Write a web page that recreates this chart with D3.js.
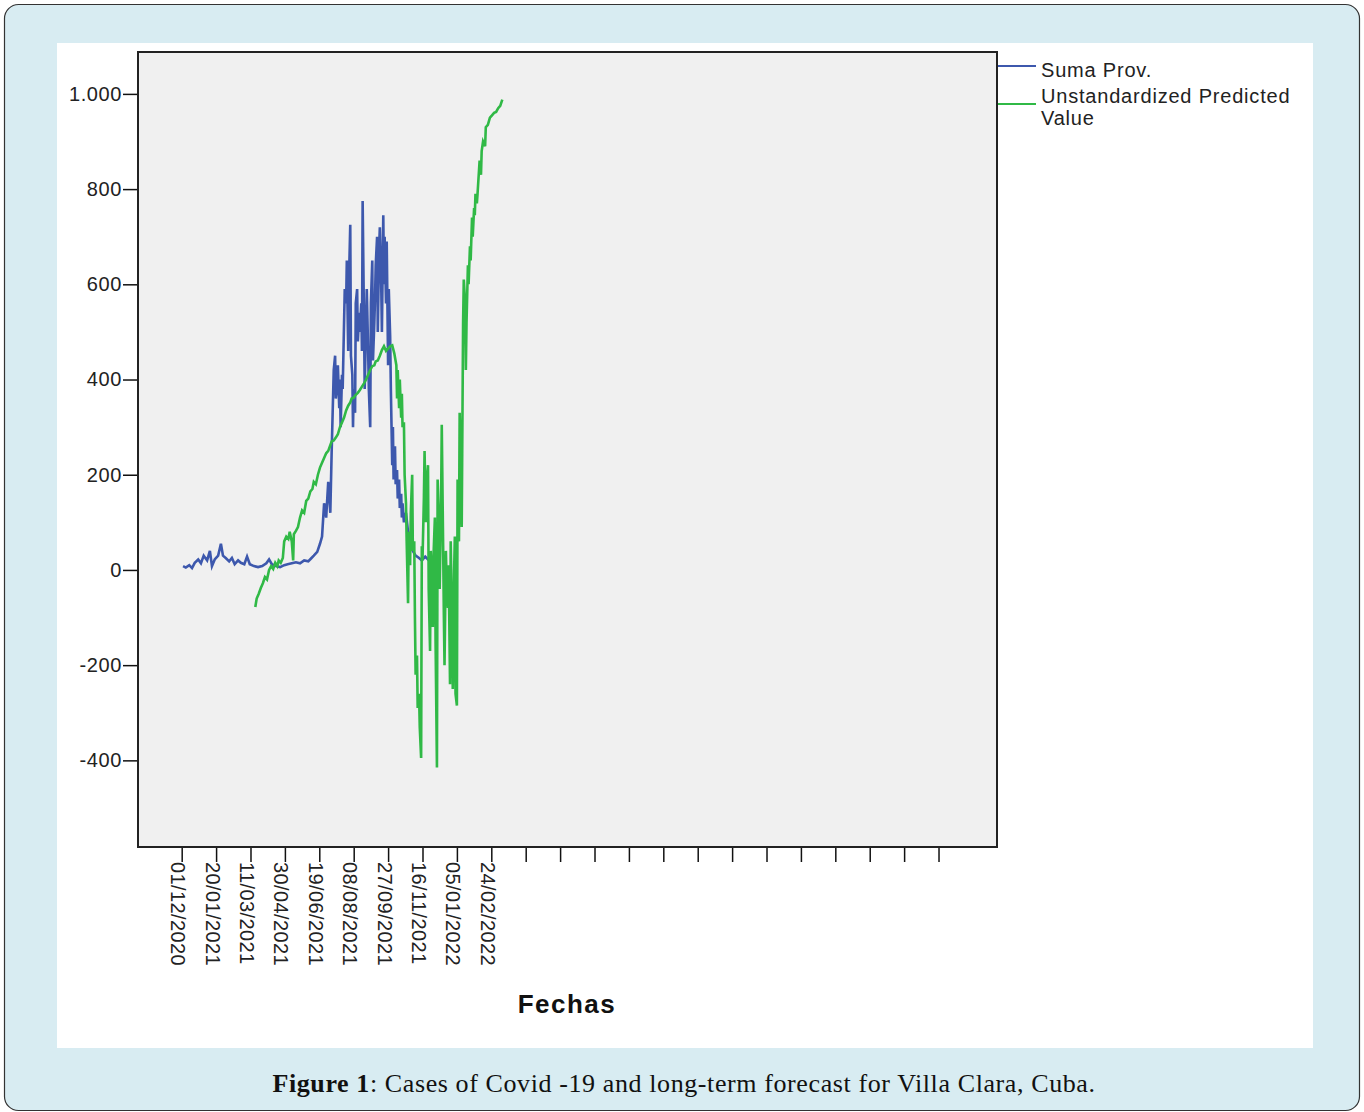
<!DOCTYPE html>
<html>
<head>
<meta charset="utf-8">
<script src="https://cdn.jsdelivr.net/npm/d3@7"></script>
<style>
  body { margin: 0; background: #ffffff; }
  text { font-family: "Liberation Sans", Arial, sans-serif; }
</style>
</head>
<body>
<div id="chart1"></div>
<script>

// ================================ data
// days counted from 01/12/2020
var sumaDays = [2, 6, 11, 15, 19, 24, 28, 32, 37, 41, 44, 48, 53, 57, 60, 64, 69, 73, 77, 82,
  86, 91, 95, 99, 105, 111, 117, 123, 127, 131, 137, 143, 149, 154, 160, 166, 172, 178, 184, 188,
  192, 197, 201, 204, 207, 210, 213, 216, 218, 221, 223, 224, 226, 227, 229, 230, 231, 233, 234, 236,
  237, 239, 240, 242, 243, 245, 246, 248, 249, 250, 252, 253, 255, 256, 258, 259, 261, 262, 263, 265,
  266, 268, 269, 271, 272, 274, 275, 277, 278, 280, 281, 282, 284, 285, 287, 288, 290, 291, 293, 294,
  295, 297, 298, 300, 301, 303, 304, 306, 307, 308, 310, 311, 313, 314, 316, 317, 319, 320, 321, 323,
  326, 329, 332, 336, 340, 345, 349, 354, 358, 362];
var sumaVals = [8, 5, 10, 4, 15, 22, 14, 30, 20, 40, 8, 22, 30, 55, 30, 25, 18, 25, 12, 20,
  15, 12, 28, 12, 8, 6, 8, 14, 22, 12, 8, 6, 10, 12, 14, 16, 14, 20, 18, 24,
  30, 38, 55, 70, 140, 110, 185, 120, 250, 420, 450, 360, 390, 430, 340, 400, 300, 410, 380, 520,
  590, 560, 650, 460, 600, 725, 450, 410, 300, 380, 330, 560, 590, 480, 540, 500, 560, 460, 775, 520,
  380, 520, 590, 460, 380, 300, 560, 650, 440, 520, 570, 640, 700, 500, 680, 720, 600, 500, 745, 600,
  700, 560, 690, 430, 590, 490, 380, 220, 300, 190, 260, 180, 210, 150, 190, 130, 160, 110, 140, 100,
  120, 80, 60, 40, 30, 25, 20, 28, 22, 18];

var predDays = [107, 109, 112, 115, 118, 121, 124, 127, 130, 133, 136, 139, 141, 144, 147, 149, 152, 155, 157, 160,
  162, 163, 166, 169, 172, 175, 178, 181, 184, 187, 190, 192, 195, 198, 201, 204, 207, 210, 213, 216,
  218, 221, 224, 227, 230, 233, 236, 239, 242, 245, 247, 250, 253, 256, 259, 262, 265, 268, 271, 274,
  277, 280, 282, 285, 288, 291, 294, 297, 300, 303, 306, 309, 312, 313, 314, 316, 317, 319, 320, 321,
  323, 324, 326, 327, 329, 330, 332, 333, 335, 336, 338, 339, 340, 342, 343, 345, 346, 348, 349, 350,
  352, 353, 355, 356, 358, 359, 361, 362, 364, 365, 366, 368, 369, 371, 372, 374, 375, 377, 378, 380,
  381, 382, 384, 385, 387, 388, 390, 391, 393, 394, 396, 397, 398, 400, 401, 403, 404, 406, 407, 409,
  410, 412, 413, 414, 416, 417, 419, 420, 422, 423, 425, 426, 427, 429, 430, 433, 435, 436, 438, 441,
  442, 445, 448, 451, 454, 457, 460, 463, 466];
var predVals = [-78, -60, -50, -38, -28, -15, -20, 0, 8, 2, 15, 8, 20, 15, 25, 60, 70, 65, 80, 60,
  20, 75, 82, 90, 110, 125, 120, 145, 150, 165, 170, 185, 180, 200, 215, 225, 235, 245, 250, 262,
  270, 272, 278, 285, 300, 310, 320, 335, 345, 352, 360, 362, 368, 372, 378, 385, 392, 400, 410, 420,
  428, 430, 438, 440, 450, 462, 470, 460, 465, 470, 472, 455, 430, 360, 420, 340, 400, 320, 370, 300,
  310, 200, 140, 60, -70, 80, 10, 120, 200, 40, 60, -100, -220, -180, -290, -260, -330, -395, 50, 20,
  150, 250, 100, 180, 220, -40, -170, 40, -60, -120, 30, 110, -150, -415, 190, 100, -40, 140, 305, 50,
  -90, -200, 40, -20, -80, 10, -240, 60, -110, -250, 0, 70, -260, -285, 190, 60, 330, 200, 90, 520,
  610, 560, 420, 520, 640, 600, 680, 650, 740, 700, 760, 745, 790, 770, 790, 860, 830, 880, 900, 890,
  930, 935, 950, 955, 960, 962, 970, 975, 988];

var yTicks = [-400, -200, 0, 200, 400, 600, 800, 1000];
var xTickLabels = ["01/12/2020", "20/01/2021", "11/03/2021", "30/04/2021", "19/06/2021",
  "08/08/2021", "27/09/2021", "16/11/2021", "05/01/2022", "24/02/2022"];
var legendLabels = ["Suma Prov.", "Unstandardized Predicted Value"];

// ================================ layout
var svgWidth = 1364;
var svgHeight = 1112;

var plot = { left: 138, top: 52, right: 997, bottom: 847 };
var blueColor = "#3d58ad";
var greenColor = "#30b946";

var startDate = new Date(Date.UTC(2020, 11, 1));
var dayToDate = d => d3.utcDay.offset(startDate, d);

var svg = d3.select("#chart1")
  .append("svg")
  .attr("width", svgWidth)
  .attr("height", svgHeight);

// outer frame
svg.append("rect")
  .attr("x", 4.5)
  .attr("y", 4.5)
  .attr("width", 1355)
  .attr("height", 1106)
  .attr("rx", 14)
  .style("fill", "#d8ecf2")
  .style("stroke", "#333")
  .style("stroke-width", 1.2);

// white panel behind the chart
svg.append("rect")
  .attr("x", 57)
  .attr("y", 43)
  .attr("width", 1256)
  .attr("height", 1005)
  .style("fill", "white");

// plot area
svg.append("rect")
  .attr("x", plot.left)
  .attr("y", plot.top)
  .attr("width", plot.right - plot.left)
  .attr("height", plot.bottom - plot.top)
  .style("fill", "#f0f0f0");

// scales
var xTimeScale = d3.scaleUtc()
  .domain([d3.utcHour.offset(startDate, -63.5 * 24), dayToDate(1185)])
  .range([plot.left, plot.right]);

var yLinearScale = d3.scaleLinear()
  .domain([-582, 1088])
  .range([plot.bottom, plot.top]);

var spanish = d3.formatLocale({ decimal: ",", thousands: ".", grouping: [3], currency: ["", ""], minus: "-" });

var xTickDates = d3.range(0, 1101, 50).map(dayToDate);

var leftAxis = d3.axisLeft(yLinearScale)
  .tickValues(yTicks)
  .tickSize(15)
  .tickPadding(1)
  .tickFormat(spanish.format(","));

var bottomAxis = d3.axisBottom(xTimeScale)
  .tickValues(xTickDates)
  .tickSize(15)
  .tickFormat((d, i) => xTickLabels[i] || "");

var yAxisG = svg.append("g")
  .attr("transform", `translate(${plot.left}, 0)`)
  .call(leftAxis);

yAxisG.select(".domain").remove();
yAxisG.selectAll("line").style("stroke", "#111").style("stroke-width", 1.5);
yAxisG.selectAll("text")
  .style("font-size", "20px")
  .style("letter-spacing", "0.6px")
  .style("fill", "#222")
  .style("font-family", "'Liberation Sans', Arial, sans-serif");

var xAxisG = svg.append("g")
  .attr("transform", `translate(0, ${plot.bottom})`)
  .call(bottomAxis);

xAxisG.select(".domain").remove();
xAxisG.selectAll("line").style("stroke", "#111").style("stroke-width", 1.5);
xAxisG.selectAll("text")
  .attr("y", 0)
  .attr("x", 0)
  .attr("dy", 0)
  .attr("transform", "translate(-11, 15) rotate(90)")
  .style("text-anchor", "start")
  .style("font-size", "20px")
  .style("letter-spacing", "0.4px")
  .style("fill", "#222")
  .style("font-family", "'Liberation Sans', Arial, sans-serif");

// plot border
svg.append("rect")
  .attr("x", plot.left)
  .attr("y", plot.top)
  .attr("width", plot.right - plot.left)
  .attr("height", plot.bottom - plot.top)
  .style("fill", "none")
  .style("stroke", "#222")
  .style("stroke-width", 2);

// axis title
svg.append("text")
  .attr("x", 567)
  .attr("y", 1013)
  .style("text-anchor", "middle")
  .style("font-size", "26px")
  .style("font-weight", "bold")
  .style("letter-spacing", "1.5px")
  .style("fill", "#111")
  .text("Fechas");

// lines
var line = d3.line()
  .x(d => xTimeScale(dayToDate(d[0])))
  .y(d => yLinearScale(d[1]));

var sumaData = sumaDays.map((d, i) => [d, sumaVals[i]]);
var predData = predDays.map((d, i) => [d, predVals[i]]);

var lineGroup = svg.append("g");

lineGroup.append("path")
  .datum(sumaData)
  .attr("d", line)
  .style("fill", "none")
  .style("stroke", blueColor)
  .style("stroke-width", 2.6);

lineGroup.append("path")
  .datum(predData)
  .attr("d", line)
  .style("fill", "none")
  .style("stroke", greenColor)
  .style("stroke-width", 2.6);

// legend
var legend = svg.append("g");

legend.append("line")
  .attr("x1", 998).attr("x2", 1036)
  .attr("y1", 66).attr("y2", 66)
  .style("stroke", blueColor)
  .style("stroke-width", 2);

legend.append("text")
  .attr("x", 1041)
  .attr("y", 77)
  .style("font-size", "20px")
  .style("letter-spacing", "0.8px")
  .style("fill", "#222")
  .text(legendLabels[0]);

legend.append("line")
  .attr("x1", 998).attr("x2", 1036)
  .attr("y1", 104).attr("y2", 104)
  .style("stroke", greenColor)
  .style("stroke-width", 2);

var predLabel = legend.append("text")
  .attr("x", 1041)
  .attr("y", 103)
  .style("font-size", "20px")
  .style("letter-spacing", "0.8px")
  .style("fill", "#222");

predLabel.append("tspan").attr("x", 1041).text("Unstandardized Predicted");
predLabel.append("tspan").attr("x", 1041).attr("dy", 22).text("Value");

// caption
var caption = svg.append("text")
  .attr("x", 684)
  .attr("y", 1092)
  .style("text-anchor", "middle")
  .style("font-family", "'Liberation Serif', 'DejaVu Serif', serif")
  .style("font-size", "26px")
  .style("letter-spacing", "0.6px")
  .style("fill", "#111");

caption.append("tspan").style("font-weight", "bold").text("Figure 1");
caption.append("tspan").text(": Cases of Covid -19 and long-term forecast for Villa Clara, Cuba.");

</script>
</body>
</html>
